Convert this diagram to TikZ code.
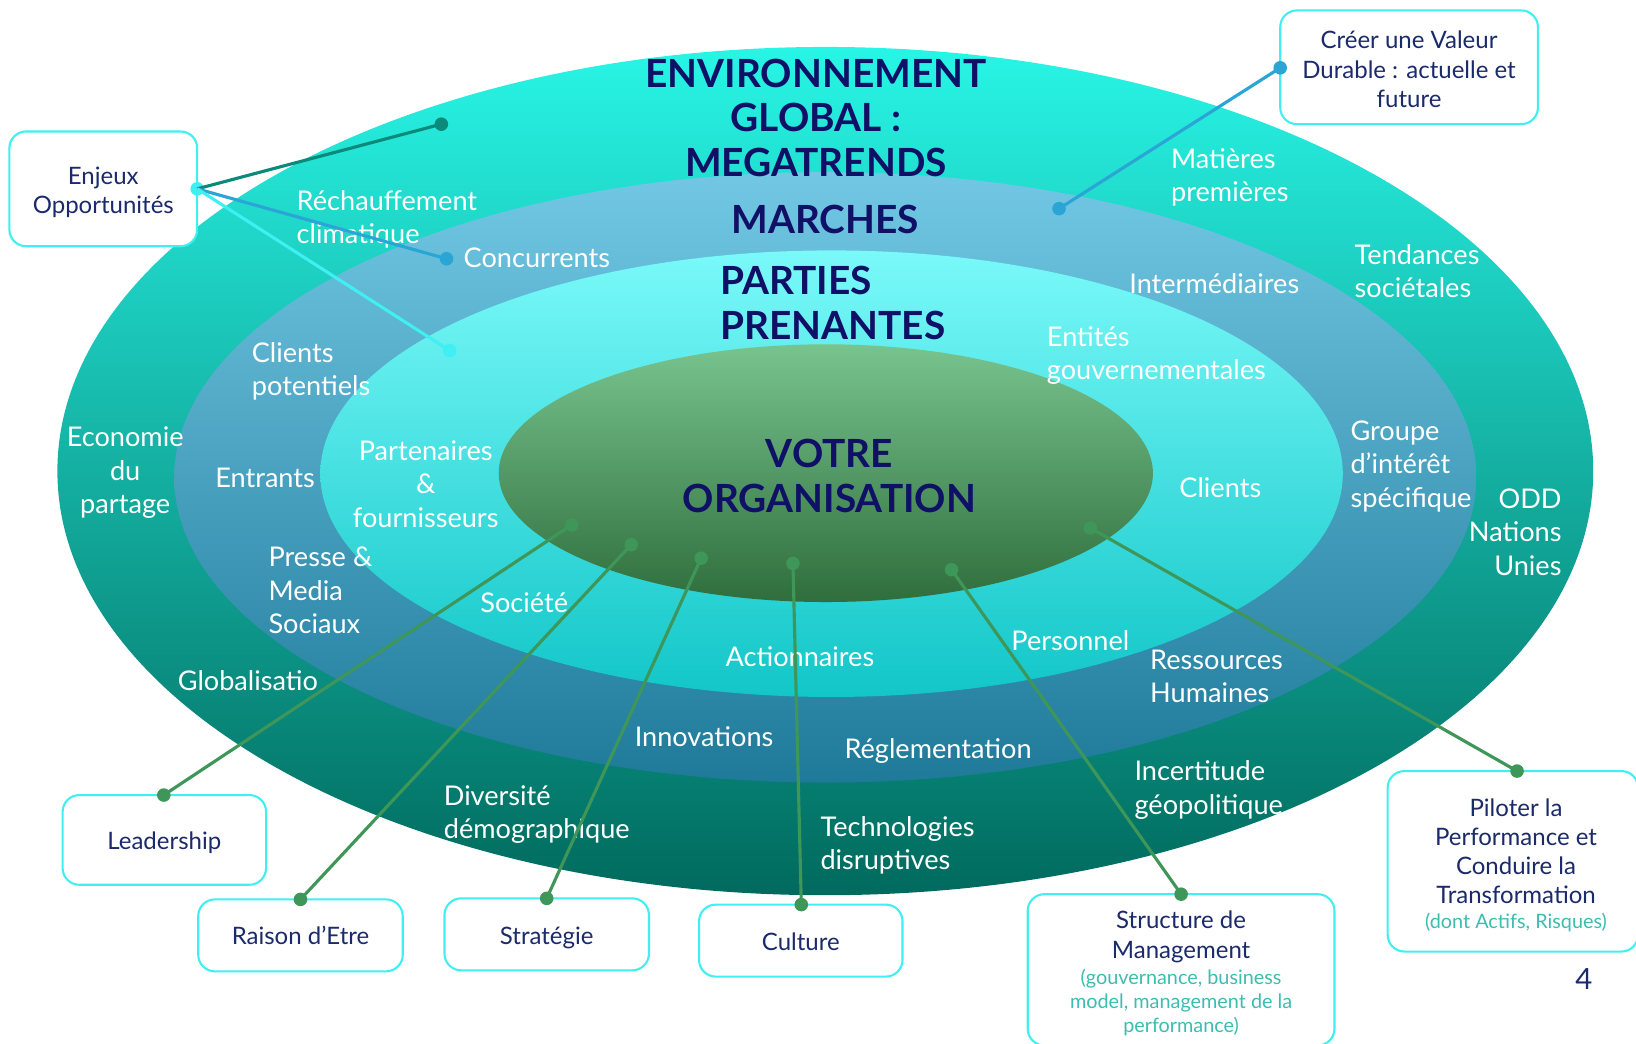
\documentclass[tikz,border=0pt]{standalone}
\usepackage{fontspec}
\setmainfont{Lato}
\definecolor{navy}{HTML}{0F1066}
\definecolor{boxtxt}{HTML}{1B2A6B}
\definecolor{subtxt}{HTML}{3DBDB0}
\definecolor{boxline}{HTML}{3FEFF2}
\definecolor{gline}{HTML}{3E9658}
\definecolor{bline}{HTML}{2AA5D5}
\definecolor{tline}{HTML}{0B8A7C}
\definecolor{oTop}{HTML}{28F5E6}
\definecolor{oMid}{HTML}{0BAE9F}
\definecolor{oBot}{HTML}{006A5D}
\definecolor{bTop}{HTML}{72C8E4}
\definecolor{bMid}{HTML}{34ADDB}
\definecolor{bBot}{HTML}{1F7A9A}
\definecolor{cTop}{HTML}{7AF9F9}
\definecolor{cMid}{HTML}{42F1F3}
\definecolor{cBot}{HTML}{12C6C8}
\definecolor{gTop}{HTML}{78C48E}
\definecolor{gMid}{HTML}{4E9C5E}
\definecolor{gBot}{HTML}{2F6E3C}
\newcommand{\subf}{\fontsize{9.5}{11.5}\selectfont\color{subtxt}}
\begin{document}
\begin{tikzpicture}[x=0.5pt,y=-0.5pt,
  lbl/.style={text=white, font=\fontsize{13}{16}\selectfont, inner sep=0pt, align=left},
  ttl/.style={text=navy, font=\fontsize{18.6}{21.5}\selectfont\bfseries, inner sep=0pt, align=center},
  bx/.style={draw=boxline, line width=1pt, fill=white, rounded corners=8pt, inner sep=0pt},
  btxt/.style={text=boxtxt, font=\fontsize{11.5}{14}\selectfont, align=center, inner sep=0pt},
  mydot/.style={circle, fill=#1, inner sep=0pt, minimum size=6.5pt},
  myconn/.style={line width=1.5pt, draw=#1}]
\useasboundingbox (0,0) rectangle (1568,1000);
\fill[white] (0,0) rectangle (1568,1000);

% ellipses
\path[top color=oTop, middle color=oMid, bottom color=oBot] (791,451.5) ellipse [x radius=368pt, y radius=203.25pt];
\path[top color=bTop, middle color=bMid, bottom color=bBot] (791,457.5) ellipse [x radius=312pt, y radius=146.25pt];
\path[top color=cTop, middle color=cMid, bottom color=cBot] (797,454) ellipse [x radius=245pt, y radius=107pt];
\path[top color=gTop, middle color=gMid, bottom color=gBot] (791.5,453.5) ellipse [x radius=156.75pt, y radius=61.75pt];

% titles
\node[ttl] (tenv) at (782,113) {ENVIRONNEMENT\\GLOBAL :\\MEGATRENDS};
\node[ttl] (tmar) at (791,210) {MARCHES};
\node[ttl, anchor=west, align=left] (tpp) at (690,290) {PARTIES\\PRENANTES};
\node[ttl] (torg) at (795,456) {VOTRE\\ORGANISATION};

% white labels
\node[lbl, anchor=west] (l1) at (284,210) {Réchauffement\\climatique};
\node[lbl, anchor=west] (l2) at (444,247) {Concurrents};
\node[lbl, anchor=west] (l3) at (1122,170) {Matières\\premières};
\node[lbl, anchor=west] (l4) at (1298,260) {Tendances\\sociétales};
\node[lbl, anchor=west] (l5) at (1082,272) {Intermédiaires};
\node[lbl, anchor=west] (l6) at (1003,341) {Entités\\gouvernementales};
\node[lbl, anchor=west] (l7) at (241,356) {Clients\\potentiels};
\node[lbl, align=center] (l8) at (120,453) {Economie\\du\\partage};
\node[lbl, anchor=west] (l9) at (206,458) {Entrants};
\node[lbl, align=center] (l10) at (408,464) {Partenaires\\\&\\fournisseurs};
\node[lbl, anchor=west] (l11) at (1130,467) {Clients};
\node[lbl, anchor=west] (l12) at (1294,447) {Groupe\\d’intérêt\\spécifique};
\node[lbl, anchor=east, align=right] (l13) at (1497,510) {ODD\\Nations\\Unies};
\node[lbl, anchor=west] (l14) at (257,566) {Presse \&\\Media\\Sociaux};
\node[lbl, anchor=west] (l15) at (460,578) {Société};
\node[lbl, anchor=west] (l16) at (170,652) {Globalisatio};
\node[lbl, anchor=west] (l17) at (695,629) {Actionnaires};
\node[lbl, anchor=west] (l18) at (969,614) {Personnel};
\node[lbl, anchor=west] (l19) at (1102,648) {Ressources\\Humaines};
\node[lbl, anchor=west] (l20) at (608,706) {Innovations};
\node[lbl, anchor=west] (l21) at (809,720) {Réglementation};
\node[lbl, anchor=west] (l22) at (1087,757) {Incertitude\\géopolitique};
\node[lbl, anchor=west] (l23) at (425,781) {Diversité\\démographique};
\node[lbl, anchor=west] (l24) at (786,810) {Technologies\\disruptives};

% boxes
\node[bx, minimum width=90pt, minimum height=55pt] (benj) at (99,181) {};
\node[btxt] (tenj) at ([yshift=-1.5pt]benj.center) {Enjeux\\Opportunités};
\node[bx, minimum width=123.5pt, minimum height=54.5pt] (bval) at (1350.5,64.5) {};
\node[btxt] (tval) at ([yshift=-1pt]bval.center) {Créer une Valeur\\Durable : actuelle et\\future};
\node[bx, minimum width=97.5pt, minimum height=43pt] (blead) at (157.5,805) {};
\node[btxt] (tlead) at ([yshift=-1.5pt]blead.center) {Leadership};
\node[bx, minimum width=98pt, minimum height=34.5pt] (brai) at (288,896.5) {};
\node[btxt] (trai) at (brai.center) {Raison d’Etre};
\node[bx, minimum width=98pt, minimum height=34.5pt] (bstr) at (524,895.5) {};
\node[btxt] (tstr) at ([yshift=-1.5pt]bstr.center) {Stratégie};
\node[bx, minimum width=97.5pt, minimum height=34.5pt] (bcul) at (767.5,901.5) {};
\node[btxt] (tcul) at ([yshift=-0.5pt]bcul.center) {Culture};
\node[bx, minimum width=147pt, minimum height=72.5pt] (bman) at (1132,929.5) {};
\node[btxt] (tman) at ([yshift=-1.75pt]bman.center) {Structure de\\Management\\[-1.5pt]{\subf (gouvernance, business}\\[-2.5pt]{\subf model, management de la}\\[-2.5pt]{\subf performance)}};
\node[bx, minimum width=120pt, minimum height=86.5pt] (bpil) at (1450,825.5) {};
\node[btxt] (tpil) at ([xshift=1.5pt,yshift=-2pt]bpil.center) {Piloter la\\Performance et\\Conduire la\\Transformation\\[-2pt]{\subf (dont Actifs, Risques)}};
\node[text=boxtxt, font=\fontsize{14}{16}\selectfont, inner sep=0pt] (pnum) at (1518,938) {4};

% connector dots
\node[mydot=boxline] (e0) at (189,181) {};
\node[mydot=tline] (e1) at (423,119) {};
\node[mydot=bline] (e2) at (428,248) {};
\node[mydot=boxline] (e3) at (431,336) {};
\node[mydot=bline] (c0) at (1227,65) {};
\node[mydot=bline] (c1) at (1015,200) {};
\node[mydot=gline] (g1) at (548,503) {};
\node[mydot=gline] (h1) at (157,762) {};
\node[mydot=gline] (g2) at (605,522) {};
\node[mydot=gline] (h2) at (288,862) {};
\node[mydot=gline] (g3) at (672,535) {};
\node[mydot=gline] (h3) at (524,861) {};
\node[mydot=gline] (g4) at (760,540) {};
\node[mydot=gline] (h4) at (768,867) {};
\node[mydot=gline] (g5) at (912,546) {};
\node[mydot=gline] (h5) at (1132,857) {};
\node[mydot=gline] (g6) at (1045,506) {};
\node[mydot=gline] (h6) at (1454,739) {};

% connectors
\draw[myconn=tline] (e0.center) -- (e1.center);
\draw[myconn=bline] (e0.center) -- (e2.center);
\draw[myconn=boxline] (e0.center) -- (e3.center);
\draw[myconn=bline] (c0.center) -- (c1.center);
\draw[myconn=gline] (g1.center) -- (h1.center);
\draw[myconn=gline] (g2.center) -- (h2.center);
\draw[myconn=gline] (g3.center) -- (h3.center);
\draw[myconn=gline] (g4.center) -- (h4.center);
\draw[myconn=gline] (g5.center) -- (h5.center);
\draw[myconn=gline] (g6.center) -- (h6.center);
\end{tikzpicture}
\end{document}
